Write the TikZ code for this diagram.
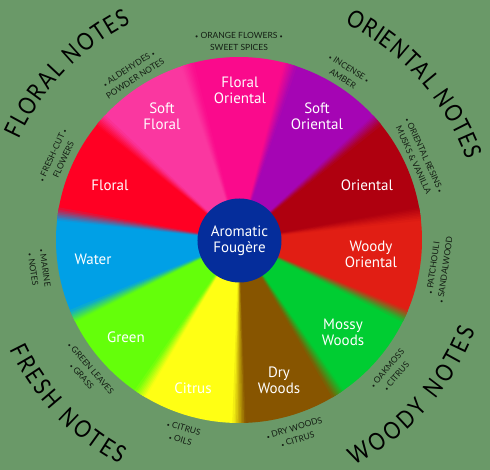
\documentclass[tikz,border=0pt]{standalone}
\usepackage{fontspec}
\setmainfont{PT Sans}
\newfontfamily\titlefamily[FakeStretch=0.85]{Lato}
\newfontfamily\notefamily{Lato}
\usetikzlibrary{decorations.text}
\definecolor{bg}{RGB}{106,153,104}
\definecolor{sFO}{RGB}{250,10,140}
\definecolor{sSF}{RGB}{250,55,160}
\definecolor{sSO}{RGB}{165,5,180}
\definecolor{sOr}{RGB}{175,0,15}
\definecolor{sWO}{RGB}{225,30,20}
\definecolor{sMW}{RGB}{0,205,50}
\definecolor{sDW}{RGB}{135,85,0}
\definecolor{sCi}{RGB}{255,255,20}
\definecolor{sGr}{RGB}{100,255,10}
\definecolor{sWa}{RGB}{0,160,230}
\definecolor{sFl}{RGB}{255,0,35}
\definecolor{cblue}{RGB}{5,45,155}
\definecolor{ink}{RGB}{20,30,20}
\newcommand\titlesize{\titlefamily\fontsize{24}{24}\selectfont}
\newcommand\bul{{\fontsize{5.5}{5.5}\selectfont\textbullet}}
\begin{document}
\begin{tikzpicture}[x=1pt,y=1pt,
  seglabel/.style={text=white,align=center,font=\fontsize{15}{16}\selectfont,inner sep=0pt},
  uplab/.style={text=ink,align=center,font=\notefamily\fontsize{8.5}{12}\selectfont,inner sep=0pt,rotate=#1-90},
  lowlab/.style={text=ink,align=center,font=\notefamily\fontsize{8.5}{12}\selectfont,inner sep=0pt,rotate=#1+90}]
\useasboundingbox (-239,-230) rectangle (251,240);
\fill[bg] (-239,-230) rectangle (251,240);
% segments
\foreach \i/\c in {0/sFO,1/sSO,2/sOr,3/sWO,4/sMW,5/sDW,6/sCi,7/sGr,8/sWa,9/sFl,10/sSF}{
  \pgfmathsetmacro\ang{90-\i*360/11}
  \fill[\c] (0,0) -- (\ang+16.5:183) arc[start angle=\ang+16.5,end angle=\ang-16.5,radius=183] -- cycle;
}
% soft boundaries
\foreach \i/\ca/\cb in {0/sFO/sSO,1/sSO/sOr,2/sOr/sWO,3/sWO/sMW,4/sMW/sDW,5/sDW/sCi,6/sCi/sGr,7/sGr/sWa,8/sWa/sFl,9/sFl/sSF,10/sSF/sFO}{
  \pgfmathsetmacro\bnd{90-\i*360/11-180/11}
  \foreach \k in {0,...,7}{
    \pgfmathtruncatemacro\pc{94-12*\k}
    \pgfmathsetmacro\sa{\bnd+2-0.5*\k+0.1}
    \pgfmathsetmacro\ea{\bnd+2-0.5*\k-0.6}
    \fill[\ca!\pc!\cb] (0,0) -- (\sa:183) arc[start angle=\sa,end angle=\ea,radius=183] -- cycle;
  }
}
% centre
\node[circle,fill=cblue,minimum size=84pt,inner sep=0pt] (hub) at (0.5,-0.5) {};
\node[seglabel] (hubtext) at (hub.center) {Aromatic\\Fougère};
% segment labels
\node[seglabel] (lFO) at (1,150) {Floral\\Oriental};
\node[seglabel] (lSF) at (-77,124) {Soft\\Floral};
\node[seglabel] (lSO) at (78,124) {Soft\\Oriental};
\node[seglabel] (lFl) at (-129,55) {Floral};
\node[seglabel] (lOr) at (128,55) {Oriental};
\node[seglabel] (lWa) at (-146,-19) {Water};
\node[seglabel] (lWO) at (132,-14) {Woody\\Oriental};
\node[seglabel] (lGr) at (-113,-97) {Green};
\node[seglabel] (lMW) at (104,-92) {Mossy\\Woods};
\node[seglabel] (lCi) at (-46,-148) {Citrus};
\node[seglabel] (lDW) at (40,-140) {Dry\\Woods};
% titles
\path[decorate,decoration={text along path,text align={fit to path},text={|\titlesize|FLORAL NOTES}}]
  (155.5:242) arc[start angle=155.5,end angle=116.5,radius=242];
\path[decorate,decoration={text along path,text align={fit to path},text={|\titlesize|ORIENTAL NOTES}}]
  (64:241) arc[start angle=64,end angle=19.5,radius=241];
\path[decorate,decoration={text along path,text align={fit to path},text={|\titlesize|FRESH NOTES}}]
  (205.5:254) arc[start angle=205.5,end angle=242,radius=254];
\path[decorate,decoration={text along path,text align={fit to path},text={|\titlesize|WOODY NOTES}}]
  (297:253) arc[start angle=297,end angle=339,radius=253];
% small labels
\node[uplab=90] (nFO) at (90:199) {\bul{} ORANGE FLOWERS \bul\\SWEET SPICES};
\node[uplab=57.27] (nSO) at (57.27:198) {\bul{} INCENSE \bul\\AMBER};
\node[uplab=24.55] (nOr) at (24.55:198) {\bul{} ORIENTAL RESINS \bul\\MUSKS \& VANILLA};
\node[uplab=122.73] (nSF) at (122.73:198) {\bul{} ALDEHYDES \bul\\POWDER NOTES};
\node[uplab=155.45] (nFl) at (155.45:199) {\bul{} FRESH-CUT \bul\\FLOWERS};
\node[lowlab=-8.18] (nWO) at (-8.18:202) {\bul{} PATCHOULI\\\bul{} SANDALWOOD};
\node[lowlab=-40.91] (nMW) at (-40.91:202) {\bul{} OAKMOSS\\\bul{} CITRUS};
\node[lowlab=-73.64] (nDW) at (-73.64:202) {\bul{} DRY WOODS\\\bul{} CITRUS};
\node[lowlab=-106.36] (nCi) at (-106.36:202) {\bul{} CITRUS\\\bul{} OILS};
\node[lowlab=-139.09] (nGr) at (-139.09:202) {\bul{} GREEN LEAVES\\\bul{} GRASS};
\node[lowlab=188.18] (nWa) at (188.18:202) {\bul{} MARINE\\\bul{} NOTES};
\end{tikzpicture}
\end{document}
